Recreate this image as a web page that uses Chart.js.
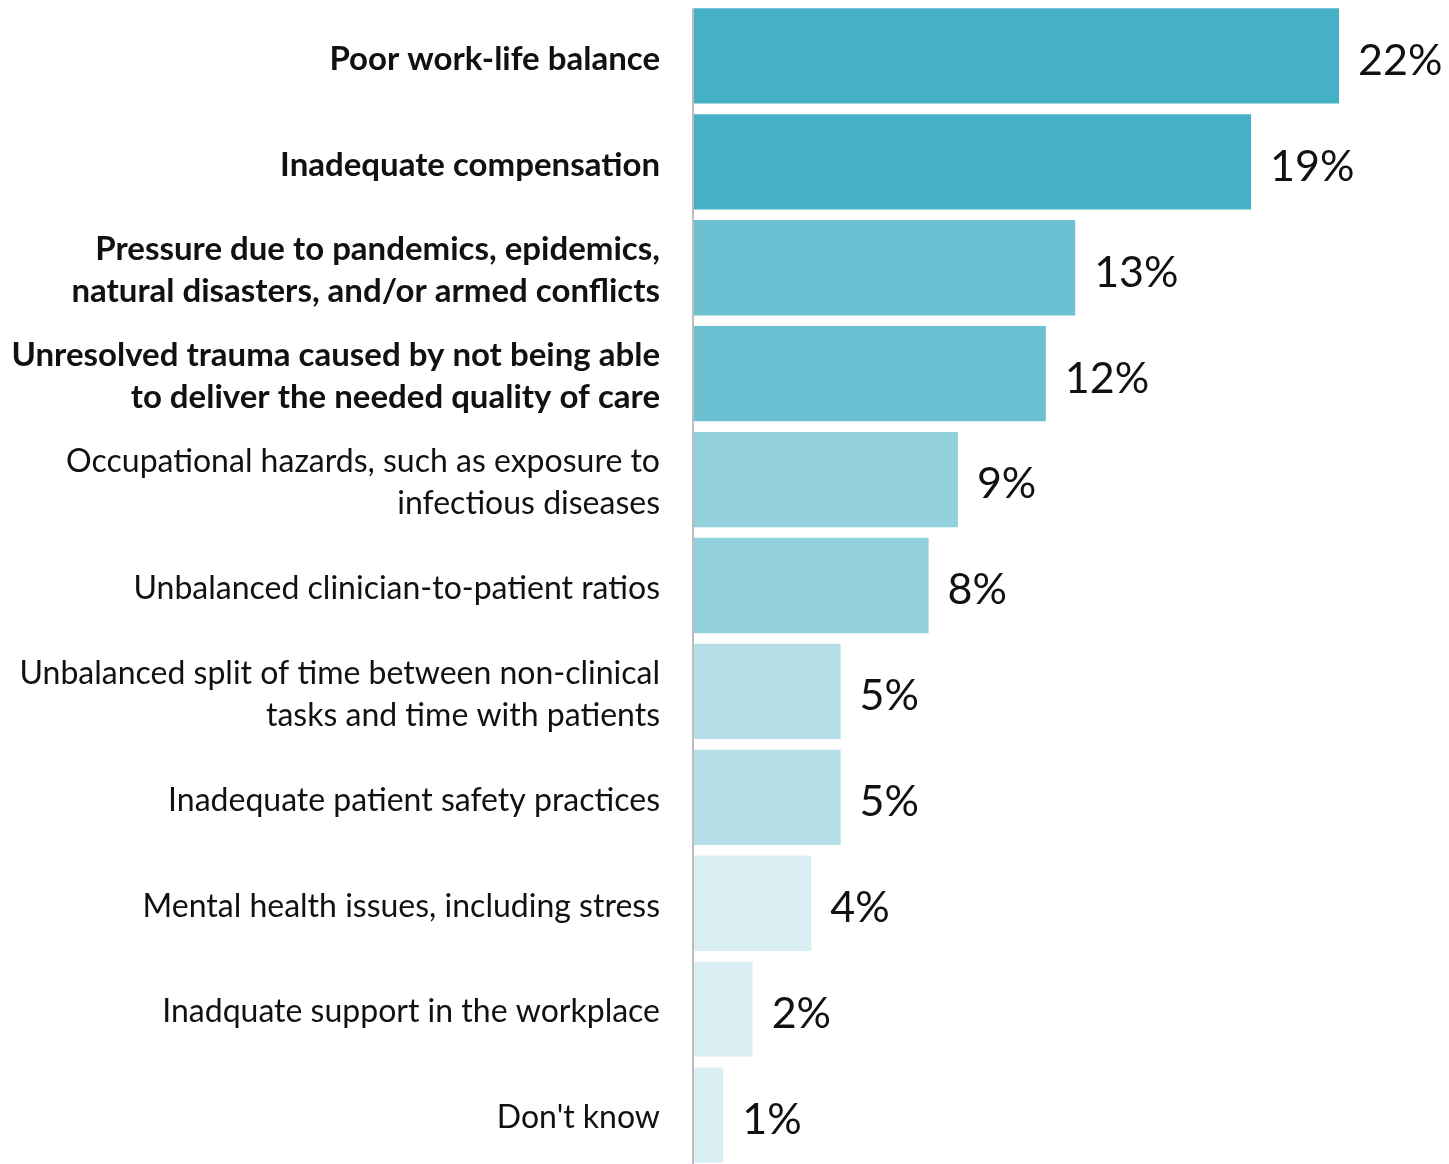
<!DOCTYPE html>
<html>
<head>
<meta charset="utf-8">
<script src="https://cdn.jsdelivr.net/npm/chart.js@4.4.1/dist/chart.umd.min.js"></script>
<style>
  html, body { margin: 0; padding: 0; background: #fff; overflow: hidden; }
  #wrap { position: relative; width: 1449px; height: 1168px; }
</style>
</head>
<body>
<div id="wrap"><canvas id="chart"></canvas></div>
<script>
// Reasons cited, in descending order of share
const categories = [
  ["Poor work-life balance"],
  ["Inadequate compensation"],
  ["Pressure due to pandemics, epidemics,", "natural disasters, and/or armed conflicts"],
  ["Unresolved trauma caused by not being able", "to deliver the needed quality of care"],
  ["Occupational hazards, such as exposure to", "infectious diseases"],
  ["Unbalanced clinician-to-patient ratios"],
  ["Unbalanced split of time between non-clinical", "tasks and time with patients"],
  ["Inadequate patient safety practices"],
  ["Mental health issues, including stress"],
  ["Inadquate support in the workplace"],
  ["Don't know"]
];
const shares = [22, 19, 13, 12, 9, 8, 5, 5, 4, 2, 1];
// Top four reasons are set in bold
const boldCount = 4;
const barColors = [
  "#46b1c6", "#46b1c6",
  "#6bc1d2", "#6bc1d2",
  "#92d1dc", "#92d1dc",
  "#b5dfe6", "#b5dfe6",
  "#daeff4", "#daeff4", "#daeff4"
];

const FONT = "Lato, 'Source Sans Pro', sans-serif";

// Nudge category labels slightly below the bar centre line
const labelNudge = {
  id: "labelNudge",
  beforeDraw(chart) {
    const ys = chart.scales.y;
    const items = ys.getLabelItems(chart.chartArea);
    if (items._nudged) return;
    items.forEach((it) => { it.options.translation[1] += 3; });
    items._nudged = true;
  }
};

// Value labels to the right of each bar, plus the left baseline rule
const barExtras = {
  id: "barExtras",
  afterDatasetsDraw(chart) {
    const ctx = chart.ctx;
    const meta = chart.getDatasetMeta(0);
    const xs = chart.scales.x;
    ctx.save();
    // baseline rule
    const first = meta.data[0];
    const top = first.y - first.height / 2;
    const x0 = xs.getPixelForValue(0);
    ctx.strokeStyle = "#bdbdbd";
    ctx.lineWidth = 2;
    ctx.beginPath();
    ctx.moveTo(x0 - 1, top);
    ctx.lineTo(x0 - 1, chart.height);
    ctx.stroke();
    // value labels
    ctx.fillStyle = "#111";
    ctx.font = "43px " + FONT;
    ctx.textAlign = "left";
    ctx.textBaseline = "middle";
    meta.data.forEach((bar, i) => {
      const v = shares[i];
      ctx.fillText(v + "%", xs.getPixelForValue(v) + 19, bar.y + 5);
    });
    ctx.restore();
  }
};

new Chart(document.getElementById("chart"), {
  type: "bar",
  data: {
    labels: categories,
    datasets: [{
      data: shares,
      backgroundColor: barColors,
      borderWidth: 0,
      barPercentage: 0.9,
      categoryPercentage: 1.0
    }]
  },
  options: {
    indexAxis: "y",
    responsive: true,
    maintainAspectRatio: false,
    animation: false,
    events: [],
    layout: { padding: { top: 3, right: 22, bottom: 0, left: 0 } },
    plugins: {
      legend: { display: false },
      tooltip: { enabled: false }
    },
    scales: {
      x: {
        display: false,
        min: 0,
        max: 25
      },
      y: {
        afterFit(scale) {
          scale.width = 694;
          scale.paddingTop = 0;
          scale.paddingBottom = 0;
        },
        grid: { display: false, drawTicks: false },
        border: { display: false },
        ticks: {
          padding: 34,
          color: "#111",
          font: (c) => {
            const bold = c.index < boldCount;
            return {
              family: FONT,
              size: bold ? 33 : 32,
              weight: bold ? "bold" : "normal",
              lineHeight: bold ? 1.27 : 1.31
            };
          }
        }
      }
    }
  },
  plugins: [labelNudge, barExtras]
});
</script>
</body>
</html>
